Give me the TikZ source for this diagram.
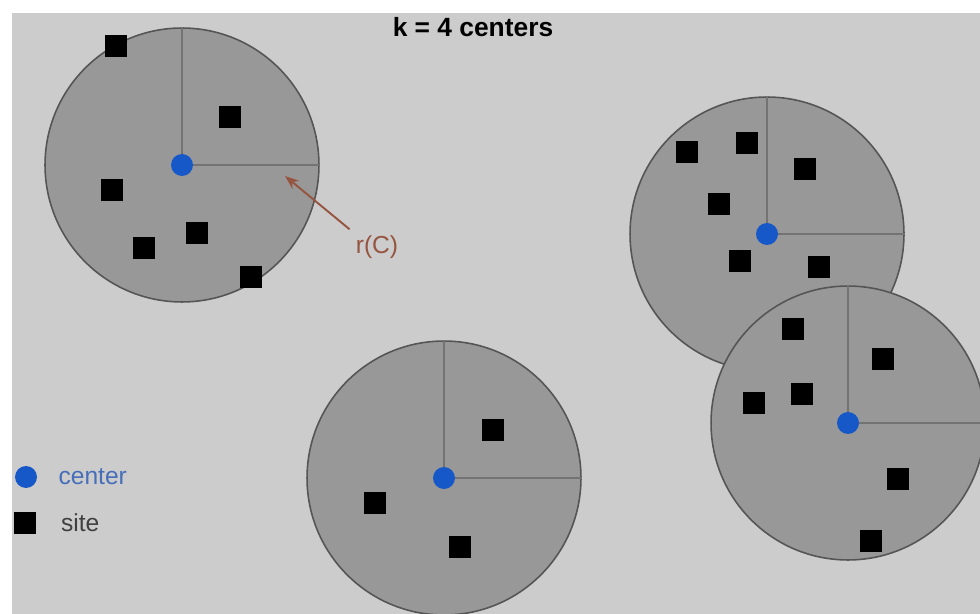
\documentclass[tikz,border=0pt]{standalone}
\usepackage{fontspec}
\setmainfont{Liberation Sans}
\usetikzlibrary{arrows.meta, positioning}
\definecolor{backgray}{RGB}{204,204,204}
\definecolor{diskgray}{RGB}{152,152,152}
\definecolor{rimgray}{RGB}{85,85,85}
\definecolor{linegray}{RGB}{115,115,115}
\definecolor{centerblue}{RGB}{22,88,200}
\definecolor{labelblue}{RGB}{70,110,185}
\definecolor{radiusbrown}{RGB}{150,85,65}
\tikzset{
  cluster/.style={
    circle, draw=rimgray, fill=diskgray, line width=0.9pt,
    minimum size=5.48cm, inner sep=0pt
  },
  radius line/.style={draw=linegray, line width=0.6pt},
  site/.style={rectangle, fill=black, minimum size=0.44cm, inner sep=0pt},
  hub/.style={circle, fill=centerblue, minimum size=0.44cm, inner sep=0pt},
  legend text/.style={font=\fontsize{14}{16}\selectfont},
  radius arrow/.style={draw=radiusbrown, line width=1.1pt,
    -{Stealth[length=8pt, width=6pt]}},
}

\begin{document}
\begin{tikzpicture}[x=0.02cm, y=-0.02cm]
  \clip (0,0) rectangle (980,614);
  \fill[backgray] (12,13) rectangle (980,614);
  \node[font=\fontsize{15}{17}\selectfont\bfseries] (title) at (473,27) {k = 4 centers};

  % cluster top left
  \node[cluster] (C1) at (182,165) {};
  \draw[radius line] (C1.center) -- (C1.north);
  \draw[radius line] (C1.center) -- (C1.east);
  \node[site] (s11) at (116,46) {};
  \node[site] (s12) at (230,117) {};
  \node[site] (s13) at (112,190) {};
  \node[site] (s14) at (197,233) {};
  \node[site] (s15) at (144,248) {};
  \node[site] (s16) at (251,277) {};
  \node[hub] (h1) at (C1.center) {};

  % radius label
  \coordinate (rtip) at (285,176);
  \node[legend text, text=radiusbrown] (rC) at (377,247) {r(C)};
  \draw[radius arrow] (rC.north west) -- (rtip);

  % cluster top right
  \node[cluster] (C2) at (767,234) {};
  \draw[radius line] (C2.center) -- (C2.north);
  \draw[radius line] (C2.center) -- (C2.east);
  \node[site] (s21) at (687,152) {};
  \node[site] (s22) at (747,143) {};
  \node[site] (s23) at (805,169) {};
  \node[site] (s24) at (719,204) {};
  \node[site] (s25) at (740,261) {};
  \node[site] (s26) at (819,267) {};
  \node[hub] (h2) at (C2.center) {};

  % cluster bottom right
  \node[cluster] (C3) at (848,423) {};
  \draw[radius line] (C3.center) -- (C3.north);
  \draw[radius line] (C3.center) -- (C3.east);
  \node[site] (s31) at (793,329) {};
  \node[site] (s32) at (883,359) {};
  \node[site] (s33) at (802,394) {};
  \node[site] (s34) at (754,403) {};
  \node[site] (s35) at (898,479) {};
  \node[site] (s36) at (871,541) {};
  \node[hub] (h3) at (C3.center) {};

  % cluster bottom middle
  \node[cluster] (C4) at (444,478) {};
  \draw[radius line] (C4.center) -- (C4.north);
  \draw[radius line] (C4.center) -- (C4.east);
  \node[site] (s41) at (493,430) {};
  \node[site] (s42) at (375,503) {};
  \node[site] (s43) at (460,547) {};
  \node[hub] (h4) at (C4.center) {};

  % legend
  \node[hub] (lhub) at (26,477) {};
  \node[legend text, text=labelblue, right=0.3cm of lhub] (lcenter) {center};
  \node[site] (lsite) at (25,523) {};
  \node[legend text, text=black!75, right=0.37cm of lsite] (lsitetext) {site};
\end{tikzpicture}
\end{document}
